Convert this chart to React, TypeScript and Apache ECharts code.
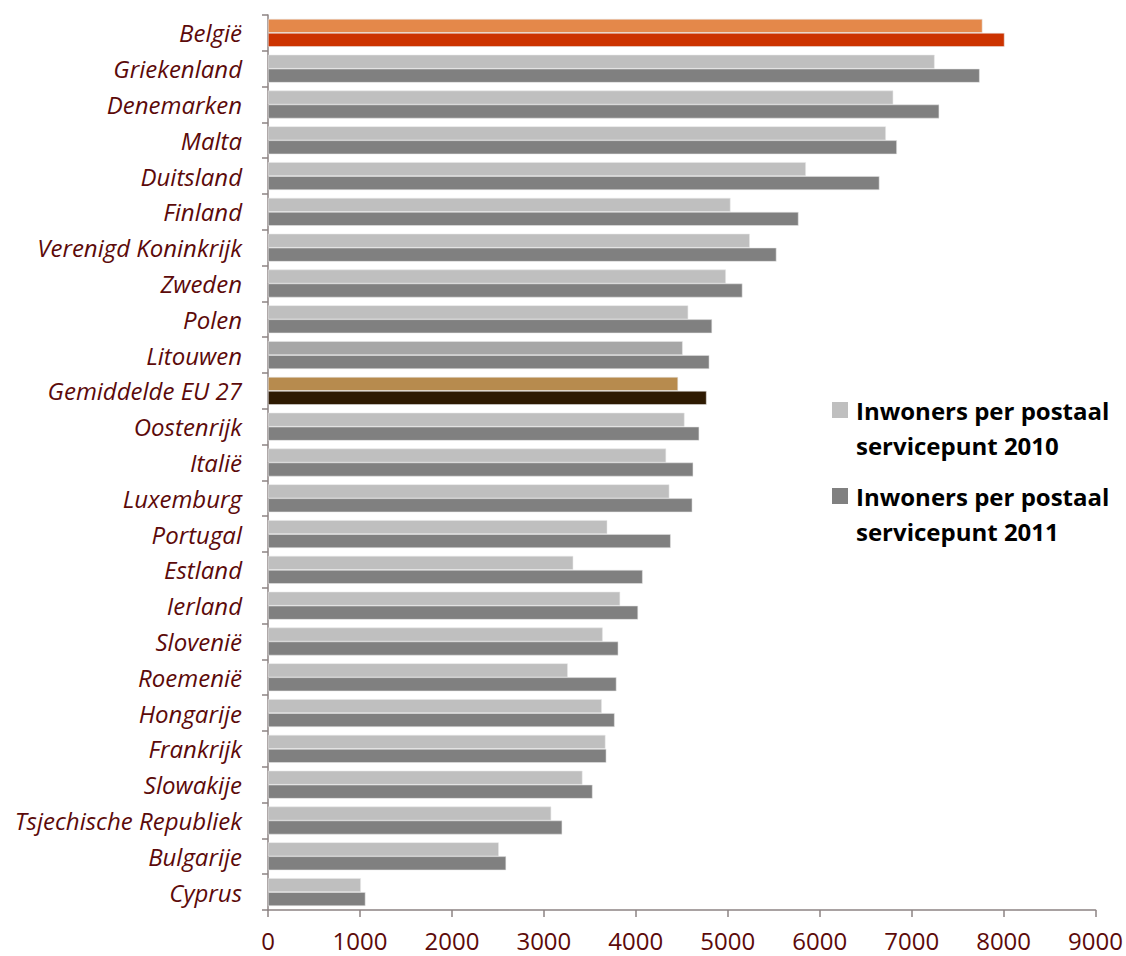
import React, { useEffect, useRef } from "react";
import * as echarts from "echarts";

const categories = [
  "België", "Griekenland", "Denemarken", "Malta", "Duitsland", "Finland",
  "Verenigd Koninkrijk", "Zweden", "Polen", "Litouwen", "Gemiddelde EU 27",
  "Oostenrijk", "Italië", "Luxemburg", "Portugal", "Estland", "Ierland",
  "Slovenië", "Roemenië", "Hongarije", "Frankrijk", "Slowakije",
  "Tsjechische Republiek", "Bulgarije", "Cyprus",
];

const values2010 = [
  7770, 7250, 6800, 6720, 5850, 5030, 5240, 4980, 4570, 4510, 4460,
  4530, 4330, 4365, 3690, 3320, 3830, 3640, 3260, 3630, 3670, 3420,
  3080, 2510, 1010,
];

const values2011 = [
  8010, 7740, 7300, 6840, 6650, 5770, 5530, 5160, 4830, 4800, 4770,
  4690, 4625, 4615, 4380, 4075, 4025, 3810, 3790, 3770, 3680, 3530,
  3200, 2590, 1060,
];

const xTicks = [0, 1000, 2000, 3000, 4000, 5000, 6000, 7000, 8000, 9000];

const seriesNames = [
  "Inwoners per postaal servicepunt 2010",
  "Inwoners per postaal servicepunt 2011",
];

const legendLabels = [
  "Inwoners per postaal\nservicepunt 2010",
  "Inwoners per postaal\nservicepunt 2011",
];

const baseColors = ["#BFBFBF", "#808080"];
const specialColors: Record<string, [string, string]> = {
  "België": ["#E4884A", "#CC3300"],
  "Gemiddelde EU 27": ["#B78B4E", "#2E1A02"],
  "Litouwen": ["#A6A6A6", "#808080"],
};

export default function App() {
  const ref = useRef<HTMLDivElement>(null);

  useEffect(() => {
    if (!ref.current) return;
    const chart = echarts.init(ref.current, undefined, { renderer: "svg" });

    const makeData = (vals: number[], idx: number) =>
      vals.map((v, i) => {
        const c = categories[i];
        const col = specialColors[c] ? specialColors[c][idx] : baseColors[idx];
        return { value: v, itemStyle: { color: col } };
      });

    const font = "'Open Sans', sans-serif";

    chart.setOption({
      animation: false,
      backgroundColor: "#ffffff",
      grid: { left: 268, right: 29, top: 15, bottom: 46, containLabel: false },
      xAxis: {
        type: "value",
        min: xTicks[0],
        max: xTicks[xTicks.length - 1],
        interval: 1000,
        axisLine: { show: true, lineStyle: { color: "#8C8383", width: 1.5 } },
        axisTick: { show: true, length: 7, lineStyle: { color: "#8C8383", width: 1.5 } },
        splitLine: { show: false },
        axisLabel: {
          color: "#5C0A0A",
          fontSize: 24,
          fontFamily: font,
          margin: 18,
          formatter: (v: number) => String(v),
        },
      },
      yAxis: {
        type: "category",
        data: categories,
        inverse: true,
        axisLine: { show: true, lineStyle: { color: "#8C8383", width: 1.5 } },
        axisTick: { show: true, length: 6, lineStyle: { color: "#8C8383", width: 1.5 } },
        axisLabel: {
          color: "#5C0A0A",
          fontSize: 24,
          fontStyle: "italic",
          fontFamily: font,
          margin: 26,
        },
      },
      series: [values2010, values2011].map((vals, idx) => ({
        name: seriesNames[idx],
        type: "bar",
        data: makeData(vals, idx),
        barGap: "0%",
        barCategoryGap: "22%",
        itemStyle: { borderColor: "rgba(230,230,230,0.9)", borderWidth: 0.6 },
      })),
      graphic: [
        ...legendLabels.flatMap((label, i) => [
          {
            type: "rect",
            left: 832,
            top: 402 + i * 86,
            shape: { width: 16, height: 16 },
            style: { fill: baseColors[i] },
          },
          {
            type: "text",
            left: 856,
            top: 393 + i * 86,
            style: {
              text: label,
              fill: "#000000",
              font: `bold 24px ${font}`,
              lineHeight: 35,
            },
          },
        ]),
      ],
    });

    return () => chart.dispose();
  }, []);

  return (
    <div
      ref={ref}
      style={{ position: "fixed", left: 0, top: 0, width: 1126, height: 956 }}
    />
  );
}
